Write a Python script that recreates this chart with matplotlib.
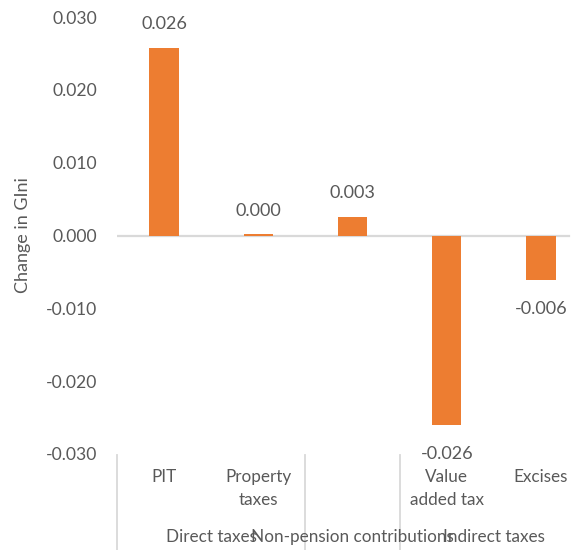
import matplotlib
matplotlib.use("Agg")
import matplotlib.pyplot as plt
import matplotlib.transforms as mtransforms

plt.rcParams['font.family'] = ['Lato', 'DejaVu Sans']

categories = ["PIT", "Property\ntaxes", "", "Value\nadded tax", "Excises"]
groups = ["Direct taxes", "Non-pension contributions", "Indirect taxes"]
group_spans = [(0, 1), (2, 2), (3, 4)]
values = [0.0258, 0.0002, 0.0026, -0.0260, -0.0061]
y_ticks = [-0.030, -0.020, -0.010, 0.000, 0.010, 0.020, 0.030]

TEXT = "#595959"
BAR = "#ED7D31"
AXIS = "#D9D9D9"
W, H = 577, 550

fig = plt.figure(figsize=(W / 100, H / 100), dpi=100)
left, right, top, bottom = 117, 588, 17, 454
ax = fig.add_axes([left / W, 1 - bottom / H, (right - left) / W, (bottom - top) / H])

x = list(range(len(values)))
ax.bar(x, values, width=0.31, color=BAR, zorder=3)

ax.set_xlim(-0.5, len(values) - 0.5)
ax.set_ylim(-0.030, 0.030)
ax.set_yticks(y_ticks)
ax.set_yticklabels([f"{t:.3f}" for t in y_ticks])
ax.tick_params(axis='y', length=0, pad=14, labelsize=12.6, labelcolor=TEXT)
ax.tick_params(axis='x', length=0, pad=11, labelsize=12.3, labelcolor=TEXT)
ax.set_xticks(x)
ax.set_xticklabels(categories, linespacing=1.5, va='top')

for s in ax.spines.values():
    s.set_visible(False)

# zero baseline
ax.axhline(0, xmin=0, xmax=(569 - left) / (right - left), color=AXIS, lw=1.6, zorder=2)

ax.set_ylabel("Change in GIni", fontsize=13, color=TEXT)
ax.yaxis.set_label_coords(31 / W, 0.5, transform=mtransforms.blended_transform_factory(
    fig.transFigure, ax.transAxes))

# value labels
for xi, v in zip(x, values):
    if v >= 0:
        ax.annotate(f"{v:.3f}", (xi, v), xytext=(0, 11), textcoords='offset points',
                    ha='center', va='bottom', fontsize=13, color=TEXT)
    else:
        ax.annotate(f"{v:.3f}", (xi, v), xytext=(0, -15), textcoords='offset points',
                    ha='center', va='top', fontsize=13, color=TEXT)

# group separators and group labels under the category labels
trans = mtransforms.blended_transform_factory(ax.transData, ax.transAxes)
sep_low = -(H - bottom) / (bottom - top) - 0.01
sep_high = -1 / (bottom - top)
for xs in [-0.5, 1.5, 2.5, 4.5]:
    ax.plot([xs, xs], [sep_high, sep_low], transform=trans, color=AXIS, lw=1.3,
            clip_on=False)

tfig = mtransforms.blended_transform_factory(ax.transData, fig.transFigure)
for name, (a, b) in zip(groups, group_spans):
    ax.text((a + b) / 2, 1 - 537 / H, name, transform=tfig, ha='center', va='center',
            fontsize=12.3, color=TEXT)

fig.savefig("out.png", dpi=100)
